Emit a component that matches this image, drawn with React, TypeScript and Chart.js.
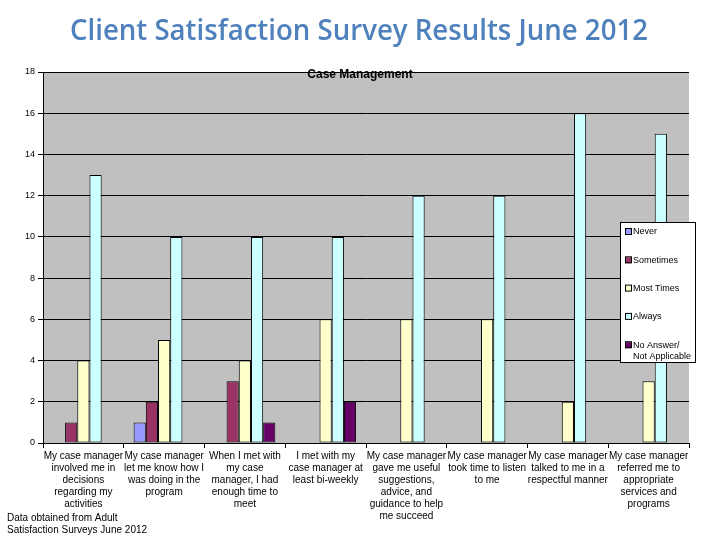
import React, { useEffect, useRef } from "react";
import { Chart, registerables } from "chart.js";
Chart.register(...registerables);

const categories: string[][] = [
  ["My case manager", "involved me in", "decisions", "regarding my", "activities"],
  ["My case manager", "let me know how I", "was doing in the", "program"],
  ["When I met with", "my case", "manager, I had", "enough time to", "meet"],
  ["I met with my", "case manager at", "least bi-weekly"],
  ["My case manager", "gave me useful", "suggestions,", "advice, and", "guidance to help", "me succeed"],
  ["My case manager", "took time to listen", "to me"],
  ["My case manager", "talked to me in a", "respectful manner"],
  ["My case manager", "referred me to", "appropriate", "services and", "programs"],
];

const seriesNames = ["Never", "Sometimes", "Most Times", "Always", "No Answer/ Not Applicable"];
const never = [0, 1, 0, 0, 0, 0, 0, 0];
const sometimes = [1, 2, 3, 0, 0, 0, 0, 0];
const mostTimes = [4, 5, 4, 6, 6, 6, 2, 3];
const always = [13, 10, 10, 10, 12, 12, 16, 15];
const noAnswer = [0, 0, 1, 2, 0, 0, 0, 0];
const seriesColors = ["#9999FF", "#993366", "#FFFFCC", "#CCFFFF", "#660066"];

const mainTitle = "Client Satisfaction Survey Results June 2012";
const chartTitle = "Case Management";
const footnote = ["Data obtained from Adult", "Satisfaction Surveys June 2012"];

const FONT = "'Liberation Sans', Arial, sans-serif";

export default function App() {
  const ref = useRef<HTMLCanvasElement>(null);
  useEffect(() => {
    const values = [never, sometimes, mostTimes, always, noAnswer];
    const decor = {
      id: "decor",
      beforeDraw(chart: any) {
        const { ctx, chartArea: a } = chart;
        ctx.save();
        ctx.fillStyle = "#FFFFFF";
        ctx.fillRect(0, 0, chart.width, chart.height);
        ctx.fillStyle = "#C0C0C0";
        ctx.fillRect(a.left, a.top, a.right - a.left, a.bottom - a.top);
        ctx.restore();
      },
      afterDraw(chart: any) {
        const { ctx, chartArea: a } = chart;
        ctx.save();
        // main title
        ctx.fillStyle = "#4F81BD";
        ctx.font = "600 28px 'Open Sans'";
        ctx.textAlign = "center";
        ctx.textBaseline = "alphabetic";
        ctx.fillText(mainTitle, 359, 40, 578);
        // chart title
        ctx.fillStyle = "#000";
        ctx.font = `bold 12px ${FONT}`;
        ctx.textBaseline = "middle";
        ctx.fillText(chartTitle, 360, 75);
        // footnote
        ctx.font = `10px ${FONT}`;
        ctx.textAlign = "left";
        footnote.forEach((t, i) => ctx.fillText(t, 7, 518 + i * 12.5));
        // legend
        const bx = a.right - 69, by = a.top + 150, bw = 75, bh = 140;
        ctx.fillStyle = "#FFF";
        ctx.fillRect(bx, by, bw, bh);
        ctx.strokeStyle = "#000";
        ctx.lineWidth = 1;
        ctx.strokeRect(bx + 0.5, by + 0.5, bw, bh);
        ctx.font = `9px ${FONT}`;
        chart.data.datasets.forEach((ds: any, i: number) => {
          const cy = by + 10 + i * 28.3;
          ctx.fillStyle = ds.backgroundColor;
          ctx.fillRect(bx + 5, cy - 3, 6, 6);
          ctx.strokeRect(bx + 5.5, cy - 3.5, 6, 6);
          ctx.fillStyle = "#000";
          const parts = String(ds.label).split("/ ");
          parts.forEach((p: string, k: number) => {
            const txt = k < parts.length - 1 ? p + "/" : p;
            ctx.fillText(txt, bx + 13, cy + k * 11);
          });
        });
        ctx.restore();
      },
    };
    const chart = new Chart(ref.current!, {
      type: "bar",
      data: {
        labels: categories as any,
        datasets: seriesNames.map((n, i) => ({
          label: n,
          data: values[i],
          backgroundColor: seriesColors[i],
          borderColor: "#000",
          borderWidth: (c: any) => (c.raw === 0 ? 0 : 1),
          borderSkipped: false,
          categoryPercentage: 0.755,
          barPercentage: 1,
        })),
      },
      options: {
        responsive: false,
        animation: false,
        layout: { padding: { top: 72, right: 31, bottom: 0, left: 0 } },
        font: { family: FONT },
        scales: {
          x: {
            ticks: {
              color: "#000",
              font: { family: FONT, size: 10, lineHeight: 1.2 },
              maxRotation: 0,
              minRotation: 0,
              autoSkip: false,
              padding: 2,
            },
            grid: { drawOnChartArea: false, color: "#000", tickLength: 5 },
            border: { color: "#000" },
            afterFit: (s: any) => {
              s.height = 97;
            },
          },
          y: {
            min: 0,
            max: 18,
            ticks: { stepSize: 2, color: "#000", font: { family: FONT, size: 9 }, padding: 3 },
            grid: { color: "#000", tickLength: 5 },
            border: { color: "#000" },
            afterFit: (s: any) => {
              s.width = 43;
            },
          },
        },
        plugins: {
          legend: { display: false },
          tooltip: { enabled: false },
          title: { display: false },
        },
      } as any,
      plugins: [decor],
    });
    return () => chart.destroy();
  }, []);
  return (
    <div style={{ position: "absolute", left: 0, top: 0, width: 720, height: 540, background: "#fff" }}>
      <canvas ref={ref} width={720} height={540} />
    </div>
  );
}
